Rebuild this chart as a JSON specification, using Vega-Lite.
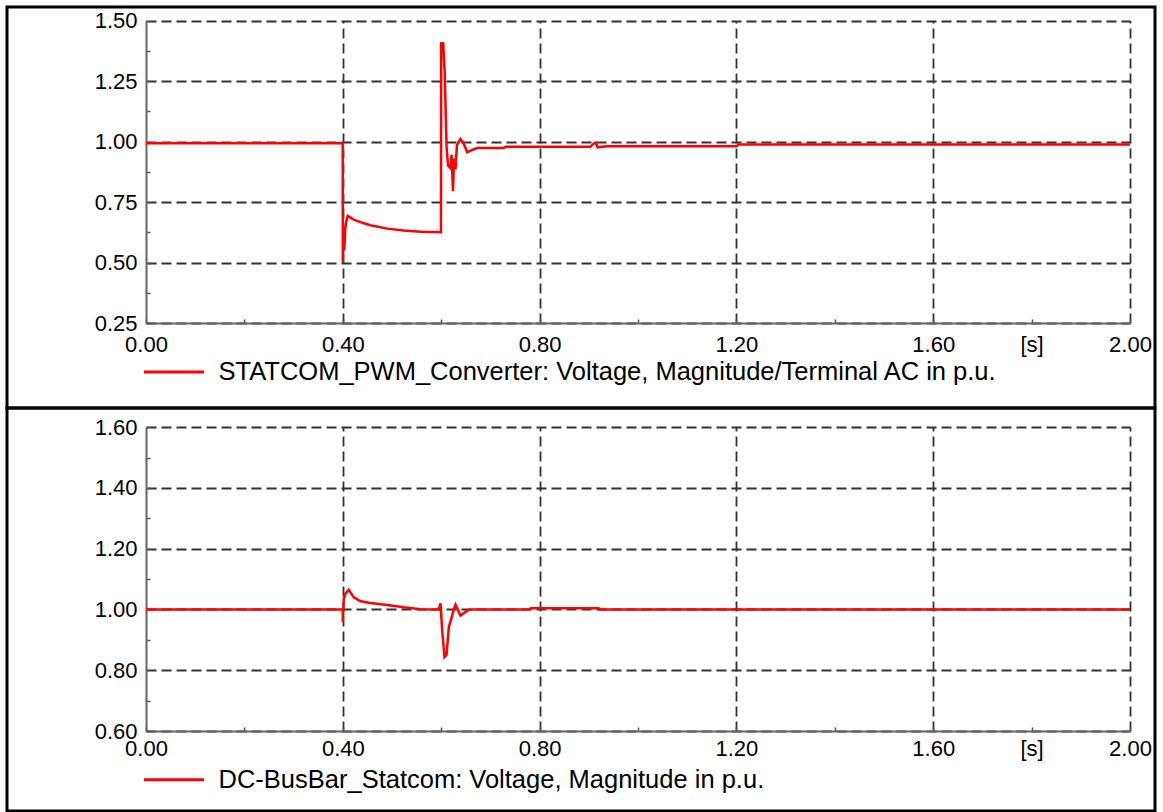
{
  "$schema": "https://vega.github.io/schema/vega-lite/v6.json",
  "padding": {"left": 5, "top": 5, "right": 5, "bottom": 0},
  "background": "white",
  "bounds": "flush",
  "spacing": 0,
  "config": {
    "view": {"stroke": "black", "strokeWidth": 3},
    "font": "Liberation Sans",
    "axis": {"labelFont": "Liberation Sans", "labelColor": "black", "labelFontSize": 22, "title": null, "labelFlush": false, "labelOverlap": false, "labelBound": false},
    "legend": {"labelFont": "Liberation Sans", "labelColor": "black"}
  },
  "resolve": {"scale": {"color": "independent"}, "legend": {"color": "independent"}},
  "datasets": {
    "ac": [
      {"t": 0, "v": 0.993}, {"t": 0.3998, "v": 0.993}, {"t": 0.4, "v": 0.50}, {"t": 0.4015, "v": 0.643},
      {"t": 0.403, "v": 0.55}, {"t": 0.405, "v": 0.64}, {"t": 0.407, "v": 0.67}, {"t": 0.41, "v": 0.692},
      {"t": 0.422, "v": 0.677}, {"t": 0.44, "v": 0.664}, {"t": 0.456, "v": 0.654}, {"t": 0.49, "v": 0.640},
      {"t": 0.524, "v": 0.632}, {"t": 0.558, "v": 0.627}, {"t": 0.5995, "v": 0.625}, {"t": 0.6, "v": 1.41},
      {"t": 0.602, "v": 1.38}, {"t": 0.604, "v": 1.41}, {"t": 0.607, "v": 1.29}, {"t": 0.609, "v": 1.13},
      {"t": 0.611, "v": 0.975}, {"t": 0.614, "v": 0.90}, {"t": 0.619, "v": 0.89}, {"t": 0.621, "v": 0.945},
      {"t": 0.624, "v": 0.795}, {"t": 0.626, "v": 0.93}, {"t": 0.629, "v": 0.885}, {"t": 0.632, "v": 0.985},
      {"t": 0.639, "v": 1.01}, {"t": 0.646, "v": 0.99}, {"t": 0.653, "v": 0.955}, {"t": 0.663, "v": 0.965},
      {"t": 0.673, "v": 0.973}, {"t": 0.727, "v": 0.973}, {"t": 0.731, "v": 0.978}, {"t": 0.903, "v": 0.978},
      {"t": 0.909, "v": 0.99}, {"t": 0.914, "v": 0.995}, {"t": 0.918, "v": 0.976}, {"t": 0.937, "v": 0.98},
      {"t": 1.2, "v": 0.98}, {"t": 1.205, "v": 0.988}, {"t": 2.0, "v": 0.988}
    ],
    "dc": [
      {"t": 0, "v": 1.0}, {"t": 0.3998, "v": 1.0}, {"t": 0.4, "v": 0.958}, {"t": 0.402, "v": 1.035},
      {"t": 0.4055, "v": 1.052}, {"t": 0.412, "v": 1.065}, {"t": 0.4224, "v": 1.040}, {"t": 0.436, "v": 1.027},
      {"t": 0.456, "v": 1.021}, {"t": 0.49, "v": 1.015}, {"t": 0.524, "v": 1.007}, {"t": 0.558, "v": 1.001},
      {"t": 0.595, "v": 1.0}, {"t": 0.5986, "v": 1.02}, {"t": 0.602, "v": 0.931}, {"t": 0.6067, "v": 0.843},
      {"t": 0.6108, "v": 0.85}, {"t": 0.6155, "v": 0.942}, {"t": 0.6223, "v": 0.98}, {"t": 0.6256, "v": 1.0},
      {"t": 0.629, "v": 1.016}, {"t": 0.6338, "v": 0.999}, {"t": 0.639, "v": 0.98}, {"t": 0.646, "v": 0.988},
      {"t": 0.656, "v": 0.999}, {"t": 0.663, "v": 1.0}, {"t": 0.78, "v": 1.0}, {"t": 0.782, "v": 1.004},
      {"t": 0.92, "v": 1.004}, {"t": 0.922, "v": 1.0}, {"t": 2.0, "v": 1.0}
    ]
  },
  "vconcat": [
    {
      "width": 1148,
      "height": 401,
      "layer": [
        {
          "data": {"name": "ac"},
          "mark": {"type": "line", "strokeWidth": 2.5},
          "encoding": {
            "x": {"field": "t", "type": "quantitative",
              "scale": {"domain": [0, 2], "range": [139, 1123], "nice": false, "zero": false},
              "axis": {"orient": "bottom", "offset": -85, "grid": false,
                "values": [0, 0.2, 0.4, 0.6, 0.8, 1, 1.2, 1.4, 1.6, 1.8, 2],
                "labelExpr": "abs(datum.value-1.8)<0.01 ? '[s]' : (abs(datum.value*2.5-round(datum.value*2.5))<0.01 ? format(datum.value,'.2f') : '')",
                "domainColor": "#666666", "domainWidth": 2, "tickColor": "#555555", "tickWidth": 1.5, "tickSize": -4, "labelPadding": 15}},
            "y": {"field": "v", "type": "quantitative",
              "scale": {"domain": [0.25, 1.5], "range": [316, 13.5], "nice": false, "zero": false},
              "axis": {"orient": "left", "offset": -139, "grid": true,
                "values": [0.25, 0.375, 0.5, 0.625, 0.75, 0.875, 1, 1.125, 1.25, 1.375, 1.5],
                "labelExpr": "abs(datum.value*4-round(datum.value*4))<0.01 ? format(datum.value,'.2f') : ''",
                "gridColor": "#333333", "gridDash": [10, 5], "gridWidth": 1.8,
                "gridOpacity": {"condition": {"test": "abs(datum.value*4-round(datum.value*4))<0.01", "value": 1}, "value": 0},
                "domainColor": "#666666", "domainWidth": 2, "tickColor": "#555555", "tickWidth": 1.5, "tickSize": -4, "labelPadding": 13}},
            "color": {"datum": "STATCOM_PWM_Converter: Voltage, Magnitude/Terminal AC in p.u.", "type": "nominal",
              "scale": {"range": ["#ff0000"]},
              "legend": {"orient": "none", "legendX": 135.5, "legendY": 333.5, "title": null, "symbolType": "stroke", "symbolSize": 3600, "symbolStrokeWidth": 3, "labelFontSize": 25.5, "labelOffset": 13, "labelLimit": 2000, "padding": 0}}
          }
        },
        {
          "data": {"name": "ac"},
          "mark": {"type": "line", "opacity": 0},
          "encoding": {
            "x": {"field": "t", "type": "quantitative",
              "axis": {"orient": "top", "grid": true, "labels": false, "ticks": false, "domain": false,
                "values": [0.4, 0.8, 1.2, 1.6, 2],
                "gridColor": "#333333", "gridDash": [10, 5], "gridWidth": 1.8}},
            "y": {"field": "v", "type": "quantitative", "axis": null}
          }
        }
      ],
      "resolve": {"axis": {"x": "independent", "y": "independent"}}
    },
    {
      "width": 1148,
      "height": 403,
      "layer": [
        {
          "data": {"name": "dc"},
          "mark": {"type": "line", "strokeWidth": 2.5},
          "encoding": {
            "x": {"field": "t", "type": "quantitative",
              "scale": {"domain": [0, 2], "range": [139, 1123], "nice": false, "zero": false},
              "axis": {"orient": "bottom", "offset": -80, "grid": false,
                "values": [0, 0.2, 0.4, 0.6, 0.8, 1, 1.2, 1.4, 1.6, 1.8, 2],
                "labelExpr": "abs(datum.value-1.8)<0.01 ? '[s]' : (abs(datum.value*2.5-round(datum.value*2.5))<0.01 ? format(datum.value,'.2f') : '')",
                "domainColor": "#666666", "domainWidth": 2, "tickColor": "#555555", "tickWidth": 1.5, "tickSize": -4, "labelPadding": 11}},
            "y": {"field": "v", "type": "quantitative",
              "scale": {"domain": [0.6, 1.6], "range": [323, 19.2], "nice": false, "zero": false},
              "axis": {"orient": "left", "offset": -139, "grid": true,
                "values": [0.6, 0.7, 0.8, 0.9, 1, 1.1, 1.2, 1.3, 1.4, 1.5, 1.6],
                "labelExpr": "abs(datum.value*5-round(datum.value*5))<0.01 ? format(datum.value,'.2f') : ''",
                "gridColor": "#333333", "gridDash": [10, 5], "gridWidth": 1.8,
                "gridOpacity": {"condition": {"test": "abs(datum.value*5-round(datum.value*5))<0.01", "value": 1}, "value": 0},
                "domainColor": "#666666", "domainWidth": 2, "tickColor": "#555555", "tickWidth": 1.5, "tickSize": -4, "labelPadding": 13}},
            "color": {"datum": "DC-BusBar_Statcom: Voltage, Magnitude in p.u.", "type": "nominal",
              "scale": {"range": ["#ff0000"]},
              "legend": {"orient": "none", "legendX": 135.5, "legendY": 340.2, "title": null, "symbolType": "stroke", "symbolSize": 3600, "symbolStrokeWidth": 3, "labelFontSize": 25.5, "labelOffset": 13, "labelLimit": 2000, "padding": 0}}
          }
        },
        {
          "data": {"name": "dc"},
          "mark": {"type": "line", "opacity": 0},
          "encoding": {
            "x": {"field": "t", "type": "quantitative",
              "axis": {"orient": "top", "grid": true, "labels": false, "ticks": false, "domain": false,
                "values": [0.4, 0.8, 1.2, 1.6, 2],
                "gridColor": "#333333", "gridDash": [10, 5], "gridWidth": 1.8}},
            "y": {"field": "v", "type": "quantitative", "axis": null}
          }
        }
      ],
      "resolve": {"axis": {"x": "independent", "y": "independent"}}
    }
  ]
}
